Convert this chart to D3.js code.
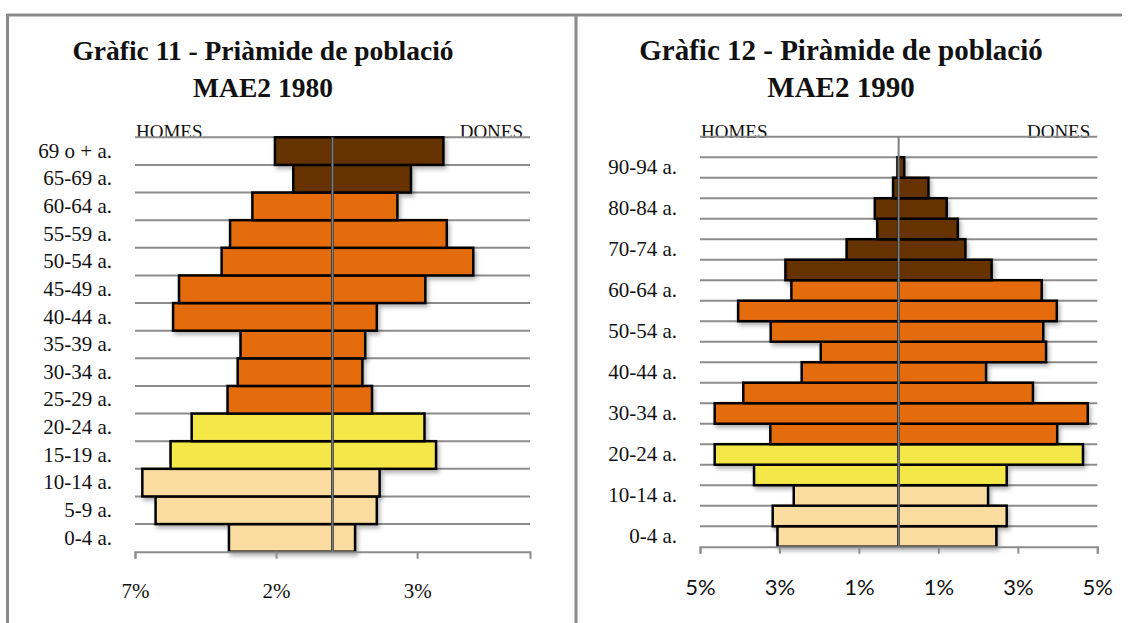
<!DOCTYPE html>
<html>
<head>
<meta charset="utf-8">
<script src="https://cdn.jsdelivr.net/npm/d3@7"></script>
<style>
  body { margin: 0; background: #fff; }
  text { font-family: "Liberation Serif", serif; fill: #111; }
</style>
</head>
<body>
<div id="chart"></div>
<script>
const ages1980 = ["0-4 a.", "5-9 a.", "10-14 a.", "15-19 a.", "20-24 a.", "25-29 a.", "30-34 a.",
                  "35-39 a.", "40-44 a.", "45-49 a.", "50-54 a.", "55-59 a.", "60-64 a.", "65-69 a.", "69 o + a."];
const homes1980 = [3.67, 6.27, 6.74, 5.74, 4.99, 3.72, 3.36, 3.26, 5.65, 5.44, 3.93, 3.63, 2.84, 1.39, 2.04];
const dones1980 = [0.80, 1.57, 1.67, 3.67, 3.26, 1.40, 1.06, 1.16, 1.57, 3.29, 4.99, 4.05, 2.30, 2.78, 3.93];
const ticks1980 = [-7, -2, 3];

const ages1990 = ["0-4 a.", "5-9 a.", "10-14 a.", "15-19 a.", "20-24 a.", "25-29 a.", "30-34 a.",
                  "35-39 a.", "40-44 a.", "45-49 a.", "50-54 a.", "55-59 a.", "60-64 a.", "65-69 a.",
                  "70-74 a.", "75-79 a.", "80-84 a.", "85-89 a.", "90-94 a.", "95 o + a."];
const homes1990 = [3.05, 3.17, 2.64, 3.64, 4.63, 3.23, 4.63, 3.91, 2.44, 1.96, 3.22, 4.04, 2.70, 2.85, 1.31, 0.54, 0.60, 0.14, 0.03, 0];
const dones1990 = [2.46, 2.72, 2.25, 2.72, 4.64, 3.99, 4.76, 3.38, 2.20, 3.71, 3.64, 3.98, 3.60, 2.34, 1.68, 1.49, 1.21, 0.75, 0.14, 0];
const ticks1990 = [-5, -3, -1, 1, 3, 5];

// colour by age band
function barColor(i) {
  if (i < 3) return "#fbdca0";
  if (i < 5) return "#f4e84a";
  if (i < 13) return "#e46c0b";
  return "#663300";
}

var svg = d3.select("#chart").append("svg")
    .attr("width", 1129)
    .attr("height", 623);

// soft shadow under the bars
var filter = svg.append("defs").append("filter")
    .attr("id", "shadow")
    .attr("x", "-10%").attr("y", "-20%")
    .attr("width", "130%").attr("height", "160%");
filter.append("feDropShadow")
    .attr("dx", 2).attr("dy", 3)
    .attr("stdDeviation", 2)
    .attr("flood-color", "#000")
    .attr("flood-opacity", 0.3);

// page frame
svg.append("line").attr("x1", 7).attr("x2", 1122).attr("y1", 15).attr("y2", 15)
    .attr("stroke", "#8a8a8a").attr("stroke-width", 3);
svg.append("line").attr("x1", 7.5).attr("x2", 7.5).attr("y1", 14).attr("y2", 623)
    .attr("stroke", "#8a8a8a").attr("stroke-width", 3);
svg.append("line").attr("x1", 576).attr("x2", 576).attr("y1", 14).attr("y2", 623)
    .attr("stroke", "#8a8a8a").attr("stroke-width", 3);

function drawPyramid(opt) {
  var x = d3.scaleLinear().domain(opt.domain).range([opt.left, opt.right]);
  var y = d3.scaleBand().domain(opt.ages).range([opt.bottom, opt.top]).padding(0);
  var g = svg.append("g");

  // title
  var title = g.append("text")
      .attr("x", opt.titleX)
      .attr("text-anchor", "middle")
      .style("font-weight", "bold")
      .style("font-size", opt.titleSize + "px");
  title.append("tspan").attr("x", opt.titleX).attr("y", 60).text(opt.title[0]);
  title.append("tspan").attr("x", opt.titleX).attr("y", 97).text(opt.title[1]);

  g.append("text")
      .attr("x", opt.left + 1).attr("y", opt.top + 1)
      .style("font-size", "19px")
      .text("HOMES");
  g.append("text")
      .attr("x", opt.right - 7).attr("y", opt.top + 1)
      .attr("text-anchor", "end")
      .style("font-size", "19px")
      .text("DONES");

  // horizontal grid lines at each band edge
  var edges = opt.ages.map(function(d) { return y(d); });
  g.selectAll(".grid")
      .data(edges)
    .enter().append("line")
      .attr("x1", opt.left).attr("x2", opt.right)
      .attr("y1", function(d) { return d; })
      .attr("y2", function(d) { return d; })
      .attr("stroke", "#8c8c8c")
      .attr("stroke-width", 2);

  var bars = g.append("g").attr("filter", "url(#shadow)");

  // men to the left
  bars.selectAll(".homes")
      .data(opt.homes)
    .enter().filter(function(d) { return d > 0; }).append("rect")
      .attr("x", function(d) { return x(-d); })
      .attr("y", function(d, i) { return y(opt.ages[i]); })
      .attr("width", function(d) { return x(0) - x(-d); })
      .attr("height", y.bandwidth())
      .attr("fill", function(d, i) { return barColor(i); })
      .attr("stroke", "#000")
      .attr("stroke-width", 2.5);

  // women to the right
  bars.selectAll(".dones")
      .data(opt.dones)
    .enter().filter(function(d) { return d > 0; }).append("rect")
      .attr("x", x(0))
      .attr("y", function(d, i) { return y(opt.ages[i]); })
      .attr("width", function(d) { return x(d) - x(0); })
      .attr("height", y.bandwidth())
      .attr("fill", function(d, i) { return barColor(i); })
      .attr("stroke", "#000")
      .attr("stroke-width", 2.5);

  // vertical axis in the middle
  g.append("line")
      .attr("x1", x(0)).attr("x2", x(0))
      .attr("y1", opt.top).attr("y2", opt.bottom)
      .attr("stroke", "#7f7f7f")
      .attr("stroke-width", 2);

  // x axis
  var xAxis = g.append("g")
      .attr("transform", "translate(0," + opt.bottom + ")")
      .call(d3.axisBottom(x)
          .tickValues(opt.ticks)
          .tickSizeOuter(0)
          .tickSize(7)
          .tickFormat(function(d) { return Math.abs(d) + "%"; }));
  xAxis.select(".domain").attr("stroke", "#8c8c8c").attr("stroke-width", 2);
  xAxis.selectAll(".tick line").attr("stroke", "#8c8c8c").attr("stroke-width", 2);
  xAxis.selectAll(".tick text")
      .attr("y", opt.tickLabelY)
      .attr("dy", 0)
      .style("font-family", opt.tickFont)
      .style("font-size", opt.tickSize + "px")
      .style("fill", "#111");

  // age labels
  var yAxis = g.append("g")
      .attr("transform", "translate(" + opt.left + ",0)")
      .call(d3.axisLeft(y)
          .tickSize(0)
          .tickPadding(23)
          .tickFormat(function(d, i) { return i % opt.labelStep === 0 ? d : ""; }));
  yAxis.select(".domain").remove();
  yAxis.selectAll(".tick text")
      .style("font-family", "'Liberation Serif', serif")
      .style("font-size", "21px")
      .style("fill", "#111");
}

drawPyramid({
  ages: ages1980, homes: homes1980, dones: dones1980, ticks: ticks1980,
  domain: [-7, 7], left: 135, right: 530, top: 137.3, bottom: 551.7,
  title: ["Gràfic 11 - Priàmide de població", "MAE2 1980"],
  titleX: 263, titleSize: 27.5,
  tickFont: "'Liberation Serif', serif", tickSize: 21, tickLabelY: 46,
  labelStep: 1
});

drawPyramid({
  ages: ages1990, homes: homes1990, dones: dones1990, ticks: ticks1990,
  domain: [-5, 5], left: 700, right: 1097.3, top: 136.7, bottom: 546.7,
  title: ["Gràfic 12 - Piràmide de població", "MAE2 1990"],
  titleX: 841, titleSize: 29,
  tickFont: "Lato, sans-serif", tickSize: 22, tickLabelY: 48,
  labelStep: 2
});
</script>
</body>
</html>
